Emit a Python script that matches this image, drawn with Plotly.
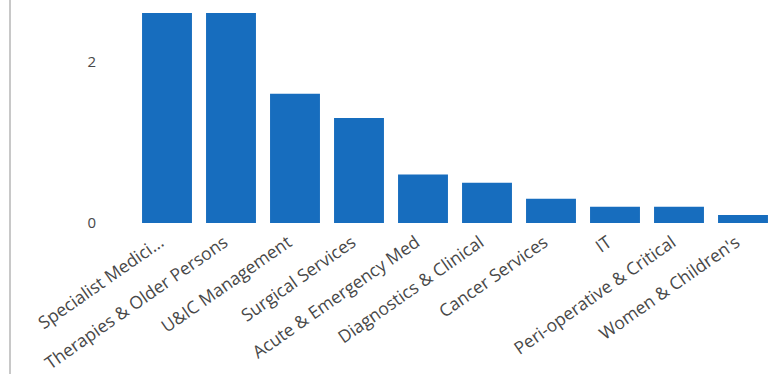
import plotly.graph_objects as go

# Departments and their values
departments = [
    "Specialist Medici...",
    "Therapies & Older Persons",
    "U&IC Management",
    "Surgical Services",
    "Acute & Emergency Med",
    "Diagnostics & Clinical",
    "Cancer Services",
    "IT",
    "Peri-operative & Critical",
    "Women & Children's",
]
values = [2.6, 2.6, 1.6, 1.3, 0.6, 0.5, 0.3, 0.2, 0.2, 0.1]
y_ticks = [0, 2]

BAR_COLOR = "#176DBE"
TEXT_COLOR = "#484848"
FONT = "Open Sans, Noto Sans, sans-serif"

fig = go.Figure(
    go.Bar(
        x=departments,
        y=values,
        marker=dict(color=BAR_COLOR, line=dict(width=0)),
        hoverinfo="x+y",
    )
)

fig.update_layout(
    width=777,
    height=374,
    margin=dict(l=135, r=2, t=5, b=151),
    paper_bgcolor="white",
    plot_bgcolor="white",
    bargap=0.22,
    showlegend=False,
    font=dict(family=FONT, size=17, color=TEXT_COLOR),
    shapes=[
        dict(
            type="line",
            xref="paper",
            yref="paper",
            x0=-125 / 640,
            x1=-125 / 640,
            y0=-151 / 218,
            y1=1 + 5 / 218,
            line=dict(color="#C8C8C8", width=2),
        )
    ],
)

fig.update_xaxes(
    automargin=False,
    tickangle=-35,
    showgrid=False,
    showline=False,
    zeroline=False,
    ticks="",
    ticklabelshift=-7,
    ticklabelstandoff=5,
    tickfont=dict(family=FONT, size=17.5, color=TEXT_COLOR),
)

fig.update_yaxes(
    automargin=False,
    range=[0, 2.70],
    tickvals=y_ticks,
    showgrid=False,
    showline=False,
    zeroline=False,
    ticks="",
    ticklabelstandoff=38,
    tickfont=dict(family=FONT, size=15, color=TEXT_COLOR),
)

fig.write_html("out.html")
